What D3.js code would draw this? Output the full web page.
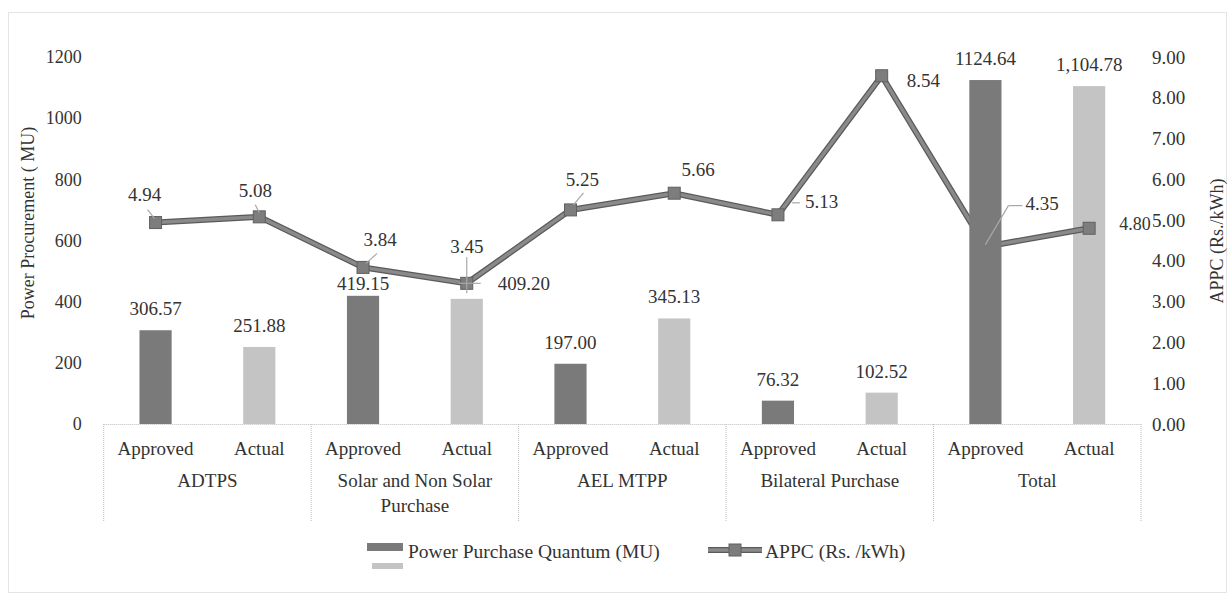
<!DOCTYPE html>
<html><head><meta charset="utf-8">
<script src="https://cdn.jsdelivr.net/npm/d3@7"></script>
<style>
body{margin:0;background:#fff}
svg{display:block}
svg text{font-family:"Liberation Serif","Tinos","DejaVu Serif","Noto Serif","Times New Roman",Times,serif !important;fill:#333}
</style>
</head><body>
<svg id="c" width="1229" height="596"></svg>
<script>
// ---------- data ----------
const groups = [["ADTPS"], ["Solar and Non Solar", "Purchase"], ["AEL MTPP"], ["Bilateral Purchase"], ["Total"]];
const subLabels = ["Approved", "Actual"];
const quantum = [306.57, 251.88, 419.15, 409.20, 197.00, 345.13, 76.32, 102.52, 1124.64, 1104.78];
const quantumLabels = ["306.57", "251.88", "419.15", "409.20", "197.00", "345.13", "76.32", "102.52", "1124.64", "1,104.78"];
const appc = [4.94, 5.08, 3.84, 3.45, 5.25, 5.66, 5.13, 8.54, 4.35, 4.80];
const leftTicks = [0, 200, 400, 600, 800, 1000, 1200];
const rightTicks = [0, 1, 2, 3, 4, 5, 6, 7, 8, 9];
const seriesNames = ["Power Purchase Quantum (MU)", "APPC (Rs. /kWh)"];
const axisTitles = ["Power Procurement ( MU)", "APPC (Rs./kWh)"];

// ---------- layout ----------
const FONT = '"Liberation Serif","Tinos","DejaVu Serif","Noto Serif","Times New Roman",Times,serif';
const svg = d3.select("#c").attr("font-family", FONT);
const L = 103.7, R = 1141, T = 57, B = 424;
const idx = quantum.map((d, i) => i);
const x = d3.scaleBand().domain(idx).range([L, R]).paddingInner(0.69).paddingOuter(0.345);
const y = d3.scaleLinear().domain([0, 1200]).range([B, T]);
const y2 = d3.scaleLinear().domain([0, 9]).range([B, T]);
const cx = i => x(i) + x.bandwidth() / 2;
const dark = "#7a7a7a", light = "#c4c4c4";
const barColor = i => (i % 2 === 0 ? dark : light);

// chart border
svg.append("rect").attr("x", 8.5).attr("y", 12.5).attr("width", 1218).attr("height", 580)
  .attr("fill", "none").attr("stroke", "#c8c8c8").attr("stroke-dasharray", "1,1");

// axes
const gl = svg.append("g").attr("transform", `translate(${L},0)`)
  .call(d3.axisLeft(y).tickValues(leftTicks).tickSize(0).tickPadding(22).tickFormat(d3.format("d")));
const gr = svg.append("g").attr("transform", `translate(${R},0)`)
  .call(d3.axisRight(y2).tickValues(rightTicks).tickSize(0).tickPadding(11).tickFormat(d3.format(".2f")));
[[gl, 18], [gr, 19]].forEach(([g, fs]) => {
  g.attr("font-family", FONT).attr("font-size", fs);
  g.select(".domain").remove();
  g.selectAll("text").attr("font-size", fs).attr("fill", "#444").attr("font-family", FONT);
});

svg.append("text").attr("transform", "translate(34,223) rotate(-90)").attr("text-anchor", "middle")
  .attr("font-size", 18).text(axisTitles[0]);
svg.append("text").attr("transform", "translate(1223,241) rotate(-90)").attr("text-anchor", "middle")
  .attr("font-size", 18).text(axisTitles[1]);

// category axis (table-like)
const ax = svg.append("g").attr("stroke", "#bdbdbd").attr("stroke-dasharray", "1,1").attr("fill", "none");
ax.append("line").attr("x1", L).attr("x2", R).attr("y1", B + 0.5).attr("y2", B + 0.5);
const gw = (R - L) / groups.length;
d3.range(groups.length + 1).forEach(k => {
  ax.append("line").attr("x1", L + k * gw).attr("x2", L + k * gw).attr("y1", B).attr("y2", 522);
});
svg.selectAll(".sub").data(idx).join("text").attr("class", "sub")
  .attr("x", i => cx(i)).attr("y", 455).attr("text-anchor", "middle").attr("font-size", 19)
  .text(i => subLabels[i % 2]);
groups.forEach((lines, k) => {
  lines.forEach((t, j) => {
    svg.append("text").attr("x", L + (k + 0.5) * gw).attr("y", 487 + j * 25)
      .attr("text-anchor", "middle").attr("font-size", 19).text(t);
  });
});

// bars (Total Approved drawn after the line, as in the reference)
const front = 8;
const drawBar = (sel, i) => sel.append("rect").attr("x", x(i)).attr("width", x.bandwidth())
  .attr("y", y(quantum[i])).attr("height", B - y(quantum[i])).attr("fill", barColor(i));
const barsG = svg.append("g");
idx.filter(i => i !== front).forEach(i => drawBar(barsG, i));

// line
const line = d3.line().x((d, i) => cx(i)).y(d => y2(d));
svg.append("path").datum(appc).attr("d", line).attr("fill", "none").attr("stroke", "#5a5a5a")
  .attr("stroke-width", 6).attr("stroke-linejoin", "miter");
svg.append("path").datum(appc).attr("d", line).attr("fill", "none").attr("stroke", "#8a8a8a")
  .attr("stroke-width", 3.5).attr("stroke-linejoin", "miter");
svg.selectAll(".mk").data(appc).join("rect").attr("class", "mk")
  .attr("x", (d, i) => cx(i) - 6).attr("y", d => y2(d) - 6).attr("width", 12).attr("height", 12)
  .attr("fill", "#7d7d7d").attr("stroke", "#606060").attr("stroke-width", 1);

drawBar(svg.append("g"), front);

// bar labels
const barLabelPos = i => {
  if (i === 2) return [cx(i), y(quantum[i]) - 6];
  if (i === 3) return [cx(i) + 57, y2(appc[i]) + 7];
  return [cx(i), y(quantum[i]) - 15];
};
svg.selectAll(".bl").data(idx).join("text").attr("class", "bl")
  .attr("x", i => barLabelPos(i)[0]).attr("y", i => barLabelPos(i)[1])
  .attr("text-anchor", "middle").attr("font-size", 19).text(i => quantumLabels[i]);

// APPC labels: [dx, dy, anchor] relative to marker
const lineLabelPos = [[-11, -22, "middle"], [-4, -20, "middle"], [17, -21, "middle"], [0, -30, "middle"],
  [12, -24, "middle"], [24, -17, "middle"], [27, -7, "start"], [25, 11, "start"], [40, -37, "start"], [30, 2, "start"]];
const lbl = svg.append("g");
appc.forEach((v, i) => {
  const p = lineLabelPos[i];
  lbl.append("text").attr("x", cx(i) + p[0]).attr("y", y2(v) + p[1]).attr("text-anchor", p[2])
    .attr("font-size", i === 9 ? 18 : 19).attr("fill", i === 8 ? "#7a7a7a" : "#333").text(d3.format(".2f")(v));
});
// leader lines
const ld = svg.append("g").attr("stroke", "#a8a8a8").attr("stroke-width", 1.2).attr("fill", "none");
const seg = (i, a, b, c, d) => ld.append("line").attr("x1", cx(i) + a).attr("y1", y2(appc[i]) + b)
  .attr("x2", cx(i) + c).attr("y2", y2(appc[i]) + d);
seg(0, -8, -13, -1, -4);
seg(1, -4, -12, 0, -4);
seg(2, 14, -14, 3, -4);
seg(3, 0, -26, 0, 10);
seg(3, -8, 0, 14, 0);
seg(4, 13, -17, 3, -5);
seg(6, 14, -12, 22, -12);
seg(8, 0, -2, 23, -41);
seg(8, 23, -41, 37, -41);

// legend
svg.append("rect").attr("x", 367).attr("y", 543).attr("width", 36).attr("height", 8).attr("fill", dark);
svg.append("rect").attr("x", 372).attr("y", 563).attr("width", 31).attr("height", 6).attr("fill", light);
svg.append("text").attr("x", 408).attr("y", 558).attr("font-size", 19.5).text(seriesNames[0]);
svg.append("line").attr("x1", 708).attr("x2", 762).attr("y1", 550).attr("y2", 550)
  .attr("stroke", "#5a5a5a").attr("stroke-width", 6);
svg.append("line").attr("x1", 708).attr("x2", 762).attr("y1", 550).attr("y2", 550)
  .attr("stroke", "#8a8a8a").attr("stroke-width", 3.5);
svg.append("rect").attr("x", 729).attr("y", 544).attr("width", 12).attr("height", 12)
  .attr("fill", "#7d7d7d").attr("stroke", "#606060");
svg.append("text").attr("x", 765).attr("y", 558).attr("font-size", 19.5).text(seriesNames[1]);
</script>
</body></html>
